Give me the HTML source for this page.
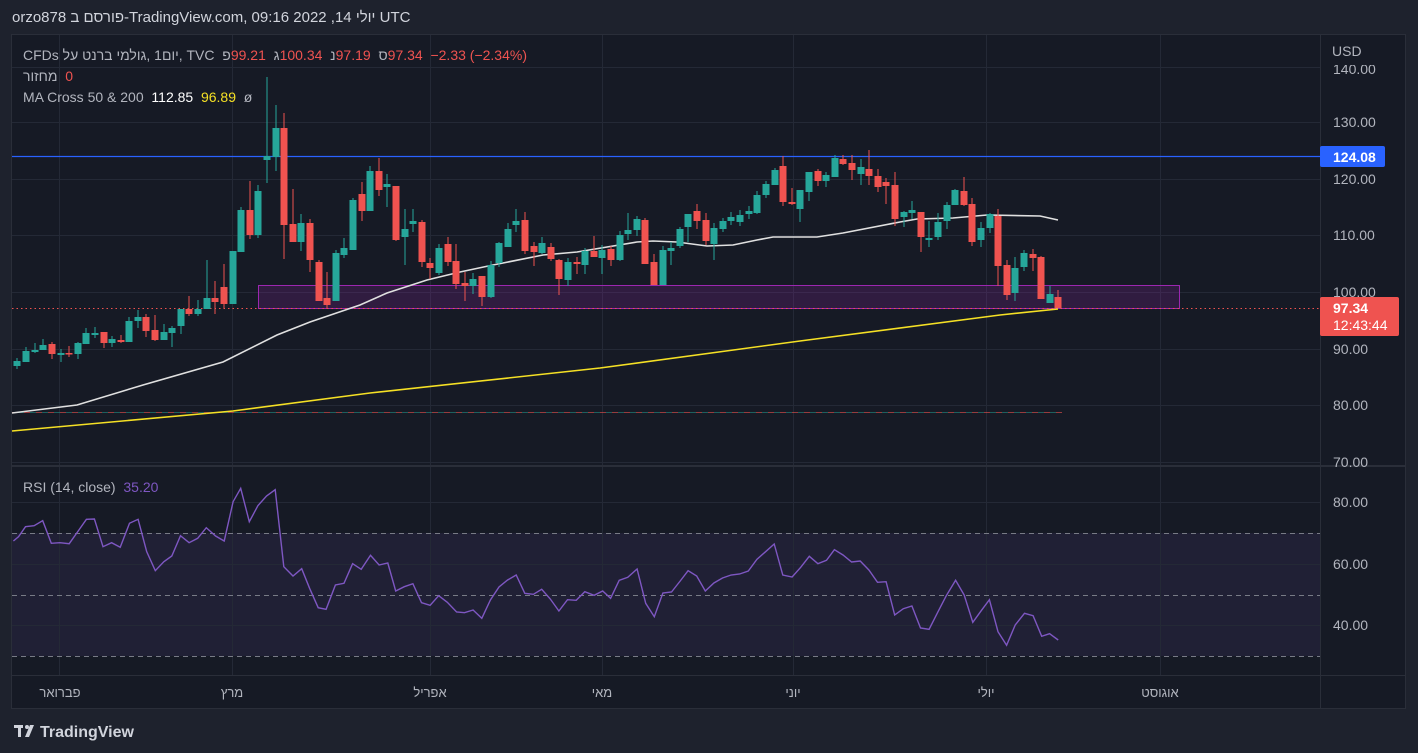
<!DOCTYPE html>
<html><head><meta charset="utf-8">
<style>
html,body{margin:0;padding:0;background:#1e222d;}
body{width:1418px;height:753px;overflow:hidden;position:relative;font-family:"Liberation Sans","Noto Sans CJK SC",sans-serif;}
.ib{display:inline-block;}
</style></head><body>
<svg width="1418" height="753" xmlns="http://www.w3.org/2000/svg" style="position:absolute;left:0;top:0" font-family="Liberation Sans, sans-serif">
<rect x="0" y="0" width="1418" height="753" fill="#1e222d"/>
<rect x="11.5" y="34.5" width="1394" height="674" fill="#161a25" stroke="#2a2e39"/>
<rect x="12" y="533" width="1308" height="123" fill="#7e57c2" fill-opacity="0.1"/>
<g stroke="#242936" stroke-width="1">
<line x1="12" x2="1320" y1="67.5" y2="67.5"/><line x1="12" x2="1320" y1="122.5" y2="122.5"/><line x1="12" x2="1320" y1="179.5" y2="179.5"/><line x1="12" x2="1320" y1="235.5" y2="235.5"/><line x1="12" x2="1320" y1="292.5" y2="292.5"/><line x1="12" x2="1320" y1="349.5" y2="349.5"/><line x1="12" x2="1320" y1="405.5" y2="405.5"/><line x1="12" x2="1320" y1="462.5" y2="462.5"/>
<line x1="12" x2="1320" y1="502.5" y2="502.5"/><line x1="12" x2="1320" y1="564.5" y2="564.5"/><line x1="12" x2="1320" y1="625.5" y2="625.5"/>
<line x1="59.5" x2="59.5" y1="35" y2="675"/><line x1="232.5" x2="232.5" y1="35" y2="675"/><line x1="430.5" x2="430.5" y1="35" y2="675"/><line x1="602.5" x2="602.5" y1="35" y2="675"/><line x1="793.5" x2="793.5" y1="35" y2="675"/><line x1="986.5" x2="986.5" y1="35" y2="675"/><line x1="1160.5" x2="1160.5" y1="35" y2="675"/>
</g>
<g stroke="#787b86" stroke-dasharray="5,4" stroke-width="1">
<line x1="12" x2="1320" y1="533.5" y2="533.5"/><line x1="12" x2="1320" y1="595.5" y2="595.5"/><line x1="12" x2="1320" y1="656.5" y2="656.5"/>
</g>
<line x1="12" x2="1406" y1="466" y2="466" stroke="#2a2e39" stroke-width="2"/>
<line x1="12" x2="1406" y1="675.5" y2="675.5" stroke="#2a2e39"/>
<line x1="1320.5" x2="1320.5" y1="35" y2="708" stroke="#2a2e39"/>
<rect x="258.5" y="285.5" width="921" height="23" fill="#9c27b0" fill-opacity="0.2" stroke="#9c27b0" stroke-width="1"/>
<line x1="12" x2="1320" y1="156.5" y2="156.5" stroke="#2962ff" stroke-width="1.2"/>
<line x1="12" x2="1320" y1="308.5" y2="308.5" stroke="#ef5350" stroke-dasharray="1.5,3"/>
<line x1="12" x2="1062" y1="412.5" y2="412.5" stroke="#ef5350" stroke-opacity="0.6" stroke-dasharray="6,6"/>
<line x1="18" x2="1062" y1="412.5" y2="412.5" stroke="#26a69a" stroke-opacity="0.5" stroke-dasharray="6,6"/>
<polyline fill="none" stroke="#e0e0e0" stroke-width="1.6" points="12,413 77,405 143,385 223,362 277,335 310,322 360,305 387,293 427,280 460,272 493,265 543,255 577,252 637,242 653,241 677,242 707,246 733,245 757,240 773,237 817,237 843,233 900,222 917,219 953,218 987,215 1040,216 1058,220"/>
<polyline fill="none" stroke="#f5e025" stroke-width="1.6" points="12,431 233,411 370,393 600,368 800,341 1000,315 1058,309"/>
<g stroke="#26a69a" stroke-width="1">
<line x1="17" x2="17" y1="358" y2="369"/><line x1="26" x2="26" y1="347" y2="362"/><line x1="35" x2="35" y1="343" y2="353"/><line x1="43" x2="43" y1="339" y2="350"/><line x1="61" x2="61" y1="349" y2="362"/><line x1="78" x2="78" y1="342" y2="359"/><line x1="86" x2="86" y1="328" y2="344"/><line x1="95" x2="95" y1="327" y2="338"/><line x1="112" x2="112" y1="336" y2="347"/><line x1="129" x2="129" y1="317" y2="342"/><line x1="138" x2="138" y1="310" y2="328"/><line x1="164" x2="164" y1="324" y2="340"/><line x1="172" x2="172" y1="326" y2="347"/><line x1="181" x2="181" y1="309" y2="334"/><line x1="198" x2="198" y1="300" y2="316"/><line x1="207" x2="207" y1="260" y2="309"/><line x1="233" x2="233" y1="251" y2="304"/><line x1="241" x2="241" y1="207" y2="252"/><line x1="258" x2="258" y1="185" y2="238"/><line x1="267" x2="267" y1="77" y2="183"/><line x1="276" x2="276" y1="105" y2="171"/><line x1="301" x2="301" y1="214" y2="251"/><line x1="336" x2="336" y1="250" y2="301"/><line x1="344" x2="344" y1="238" y2="258"/><line x1="353" x2="353" y1="198" y2="250"/><line x1="370" x2="370" y1="166" y2="211"/><line x1="387" x2="387" y1="174" y2="207"/><line x1="405" x2="405" y1="209" y2="265"/><line x1="413" x2="413" y1="209" y2="232"/><line x1="439" x2="439" y1="244" y2="275"/><line x1="473" x2="473" y1="273" y2="294"/><line x1="491" x2="491" y1="261" y2="298"/><line x1="499" x2="499" y1="242" y2="267"/><line x1="508" x2="508" y1="223" y2="247"/><line x1="516" x2="516" y1="209" y2="232"/><line x1="542" x2="542" y1="237" y2="254"/><line x1="568" x2="568" y1="258" y2="286"/><line x1="585" x2="585" y1="248" y2="274"/><line x1="602" x2="602" y1="245" y2="274"/><line x1="620" x2="620" y1="231" y2="261"/><line x1="628" x2="628" y1="213" y2="240"/><line x1="637" x2="637" y1="216" y2="236"/><line x1="663" x2="663" y1="246" y2="285"/><line x1="671" x2="671" y1="242" y2="265"/><line x1="680" x2="680" y1="227" y2="248"/><line x1="688" x2="688" y1="214" y2="242"/><line x1="714" x2="714" y1="223" y2="260"/><line x1="723" x2="723" y1="218" y2="232"/><line x1="731" x2="731" y1="212" y2="225"/><line x1="740" x2="740" y1="210" y2="226"/><line x1="749" x2="749" y1="206" y2="219"/><line x1="757" x2="757" y1="191" y2="214"/><line x1="766" x2="766" y1="181" y2="198"/><line x1="775" x2="775" y1="168" y2="185"/><line x1="800" x2="800" y1="190" y2="222"/><line x1="809" x2="809" y1="172" y2="201"/><line x1="826" x2="826" y1="172" y2="187"/><line x1="835" x2="835" y1="155" y2="177"/><line x1="861" x2="861" y1="159" y2="185"/><line x1="904" x2="904" y1="211" y2="227"/><line x1="912" x2="912" y1="201" y2="219"/><line x1="929" x2="929" y1="221" y2="247"/><line x1="938" x2="938" y1="213" y2="240"/><line x1="947" x2="947" y1="202" y2="229"/><line x1="955" x2="955" y1="189" y2="205"/><line x1="981" x2="981" y1="222" y2="247"/><line x1="990" x2="990" y1="213" y2="233"/><line x1="1015" x2="1015" y1="257" y2="301"/><line x1="1024" x2="1024" y1="250" y2="271"/><line x1="1050" x2="1050" y1="286" y2="303"/>
</g>
<g fill="#26a69a">
<rect x="13.5" y="361" width="7" height="5"/><rect x="22.5" y="351" width="7" height="11"/><rect x="31.5" y="350" width="7" height="2"/><rect x="39.5" y="345" width="7" height="5"/><rect x="57.5" y="353" width="7" height="2"/><rect x="74.5" y="343" width="7" height="11"/><rect x="82.5" y="333" width="7" height="11"/><rect x="91.5" y="333" width="7" height="2"/><rect x="108.5" y="339" width="7" height="4"/><rect x="125.5" y="321" width="7" height="21"/><rect x="134.5" y="317" width="7" height="4"/><rect x="160.5" y="332" width="7" height="8"/><rect x="168.5" y="328" width="7" height="5"/><rect x="177.5" y="309" width="7" height="17"/><rect x="194.5" y="309" width="7" height="5"/><rect x="203.5" y="298" width="7" height="11"/><rect x="229.5" y="251" width="7" height="53"/><rect x="237.5" y="210" width="7" height="42"/><rect x="254.5" y="191" width="7" height="44"/><rect x="263.5" y="156" width="7" height="4"/><rect x="272.5" y="128" width="7" height="29"/><rect x="297.5" y="223" width="7" height="19"/><rect x="332.5" y="253" width="7" height="48"/><rect x="340.5" y="248" width="7" height="7"/><rect x="349.5" y="200" width="7" height="50"/><rect x="366.5" y="171" width="7" height="40"/><rect x="383.5" y="184" width="7" height="3"/><rect x="401.5" y="229" width="7" height="8"/><rect x="409.5" y="221" width="7" height="3"/><rect x="435.5" y="248" width="7" height="25"/><rect x="469.5" y="279" width="7" height="7"/><rect x="487.5" y="265" width="7" height="32"/><rect x="495.5" y="243" width="7" height="20"/><rect x="504.5" y="229" width="7" height="18"/><rect x="512.5" y="221" width="7" height="4"/><rect x="538.5" y="243" width="7" height="10"/><rect x="564.5" y="262" width="7" height="18"/><rect x="581.5" y="251" width="7" height="14"/><rect x="598.5" y="250" width="7" height="8"/><rect x="616.5" y="235" width="7" height="25"/><rect x="624.5" y="230" width="7" height="4"/><rect x="633.5" y="219" width="7" height="11"/><rect x="659.5" y="250" width="7" height="35"/><rect x="667.5" y="248" width="7" height="3"/><rect x="676.5" y="229" width="7" height="17"/><rect x="684.5" y="214" width="7" height="13"/><rect x="710.5" y="228" width="7" height="16"/><rect x="719.5" y="221" width="7" height="8"/><rect x="727.5" y="217" width="7" height="4"/><rect x="736.5" y="215" width="7" height="7"/><rect x="745.5" y="211" width="7" height="3"/><rect x="753.5" y="195" width="7" height="18"/><rect x="762.5" y="184" width="7" height="11"/><rect x="771.5" y="170" width="7" height="15"/><rect x="796.5" y="190" width="7" height="19"/><rect x="805.5" y="172" width="7" height="20"/><rect x="822.5" y="175" width="7" height="6"/><rect x="831.5" y="158" width="7" height="19"/><rect x="857.5" y="167" width="7" height="7"/><rect x="900.5" y="212" width="7" height="5"/><rect x="908.5" y="210" width="7" height="3"/><rect x="925.5" y="238" width="7" height="2"/><rect x="934.5" y="222" width="7" height="15"/><rect x="943.5" y="205" width="7" height="16"/><rect x="951.5" y="190" width="7" height="15"/><rect x="977.5" y="228" width="7" height="12"/><rect x="986.5" y="214" width="7" height="14"/><rect x="1011.5" y="268" width="7" height="25"/><rect x="1020.5" y="253" width="7" height="14"/><rect x="1046.5" y="294" width="7" height="9"/>
</g>
<g stroke="#ef5350" stroke-width="1">
<line x1="52" x2="52" y1="342" y2="359"/><line x1="69" x2="69" y1="346" y2="357"/><line x1="104" x2="104" y1="332" y2="348"/><line x1="121" x2="121" y1="335" y2="343"/><line x1="146" x2="146" y1="314" y2="337"/><line x1="155" x2="155" y1="315" y2="341"/><line x1="189" x2="189" y1="296" y2="316"/><line x1="215" x2="215" y1="281" y2="314"/><line x1="224" x2="224" y1="264" y2="308"/><line x1="250" x2="250" y1="181" y2="239"/><line x1="284" x2="284" y1="113" y2="259"/><line x1="293" x2="293" y1="189" y2="242"/><line x1="310" x2="310" y1="219" y2="272"/><line x1="319" x2="319" y1="260" y2="301"/><line x1="327" x2="327" y1="272" y2="309"/><line x1="362" x2="362" y1="182" y2="221"/><line x1="379" x2="379" y1="158" y2="196"/><line x1="396" x2="396" y1="186" y2="241"/><line x1="422" x2="422" y1="220" y2="267"/><line x1="430" x2="430" y1="258" y2="279"/><line x1="448" x2="448" y1="237" y2="266"/><line x1="456" x2="456" y1="244" y2="289"/><line x1="465" x2="465" y1="272" y2="301"/><line x1="482" x2="482" y1="276" y2="306"/><line x1="525" x2="525" y1="212" y2="254"/><line x1="534" x2="534" y1="242" y2="266"/><line x1="551" x2="551" y1="243" y2="261"/><line x1="559" x2="559" y1="259" y2="295"/><line x1="577" x2="577" y1="257" y2="274"/><line x1="594" x2="594" y1="236" y2="257"/><line x1="611" x2="611" y1="246" y2="266"/><line x1="645" x2="645" y1="218" y2="264"/><line x1="654" x2="654" y1="254" y2="285"/><line x1="697" x2="697" y1="204" y2="229"/><line x1="706" x2="706" y1="213" y2="245"/><line x1="783" x2="783" y1="156" y2="206"/><line x1="792" x2="792" y1="188" y2="205"/><line x1="818" x2="818" y1="169" y2="186"/><line x1="843" x2="843" y1="155" y2="165"/><line x1="852" x2="852" y1="155" y2="180"/><line x1="869" x2="869" y1="150" y2="185"/><line x1="878" x2="878" y1="169" y2="192"/><line x1="886" x2="886" y1="178" y2="204"/><line x1="895" x2="895" y1="172" y2="226"/><line x1="921" x2="921" y1="212" y2="252"/><line x1="964" x2="964" y1="177" y2="206"/><line x1="972" x2="972" y1="198" y2="246"/><line x1="998" x2="998" y1="209" y2="286"/><line x1="1007" x2="1007" y1="260" y2="300"/><line x1="1033" x2="1033" y1="249" y2="271"/><line x1="1041" x2="1041" y1="256" y2="299"/><line x1="1058" x2="1058" y1="290" y2="308"/>
</g>
<g fill="#ef5350">
<rect x="48.5" y="344" width="7" height="10"/><rect x="65.5" y="353" width="7" height="1.5"/><rect x="100.5" y="332" width="7" height="11"/><rect x="117.5" y="340" width="7" height="2"/><rect x="142.5" y="317" width="7" height="14"/><rect x="151.5" y="330" width="7" height="10"/><rect x="185.5" y="309" width="7" height="5"/><rect x="211.5" y="298" width="7" height="4"/><rect x="220.5" y="287" width="7" height="17"/><rect x="246.5" y="210" width="7" height="25"/><rect x="280.5" y="128" width="7" height="97"/><rect x="289.5" y="224" width="7" height="18"/><rect x="306.5" y="223" width="7" height="37"/><rect x="315.5" y="262" width="7" height="39"/><rect x="323.5" y="298" width="7" height="7"/><rect x="358.5" y="194" width="7" height="17"/><rect x="375.5" y="171" width="7" height="19"/><rect x="392.5" y="186" width="7" height="54"/><rect x="418.5" y="222" width="7" height="40"/><rect x="426.5" y="263" width="7" height="5"/><rect x="444.5" y="244" width="7" height="18"/><rect x="452.5" y="261" width="7" height="23"/><rect x="461.5" y="283" width="7" height="3"/><rect x="478.5" y="276" width="7" height="21"/><rect x="521.5" y="220" width="7" height="31"/><rect x="530.5" y="246" width="7" height="6"/><rect x="547.5" y="247" width="7" height="12"/><rect x="555.5" y="260" width="7" height="19"/><rect x="573.5" y="262" width="7" height="2"/><rect x="590.5" y="251" width="7" height="6"/><rect x="607.5" y="249" width="7" height="11"/><rect x="641.5" y="220" width="7" height="44"/><rect x="650.5" y="262" width="7" height="23"/><rect x="693.5" y="211" width="7" height="10"/><rect x="702.5" y="220" width="7" height="21"/><rect x="779.5" y="166" width="7" height="36"/><rect x="788.5" y="202" width="7" height="2"/><rect x="814.5" y="171" width="7" height="10"/><rect x="839.5" y="159" width="7" height="5"/><rect x="848.5" y="163" width="7" height="7"/><rect x="865.5" y="169" width="7" height="7"/><rect x="874.5" y="176" width="7" height="11"/><rect x="882.5" y="182" width="7" height="4"/><rect x="891.5" y="185" width="7" height="34"/><rect x="917.5" y="212" width="7" height="25"/><rect x="960.5" y="191" width="7" height="14"/><rect x="968.5" y="204" width="7" height="38"/><rect x="994.5" y="216" width="7" height="50"/><rect x="1003.5" y="265" width="7" height="30"/><rect x="1029.5" y="254" width="7" height="4"/><rect x="1037.5" y="257" width="7" height="42"/><rect x="1054.5" y="297" width="7" height="11"/>
</g>
<polyline fill="none" stroke="#7e57c2" stroke-width="1.4" points="13.4,541 18.6,536.7 25.5,526.7 34.1,525.7 42.7,520.7 51.3,543.3 59.9,542.7 69.2,543.7 78.9,530 86.4,519.3 94.4,519 103,546.7 111.6,542.7 120.2,547.3 129.5,523.3 138.1,519.3 146.7,551.7 155.3,570.7 163.9,561.7 171.8,556 180.5,535.7 189.1,542.7 197.7,538.3 206.3,527.7 215.6,536 224.2,541 233.1,501.7 240.7,488.3 249.3,521.7 257.9,505.7 266.5,496 275.2,489.7 283.8,566.7 293,576 301.7,568.7 309.6,588.3 318.2,607.7 326.1,609.3 335.4,585 344,583.3 352.6,563.7 361.2,569.3 370.5,555.3 379.1,565 387.8,563 395.7,591 404.3,586.7 412.9,583.7 421.5,602.7 430.1,605.3 438.7,595.7 447.3,602.3 456.6,612 464.5,612.7 473.1,610 481.8,618.3 490.4,600 499,587 507.6,580 516.2,575 524.8,593.3 533.4,594.3 541.7,589.3 550.3,599 558.9,611 567.5,599.7 576.2,600.3 584.8,591.7 594.1,595.3 602.7,591 610.6,598.3 619.2,580.3 627.8,577.3 637.1,569 645.7,603.3 654.3,616.7 662.9,593 671.5,592 680.2,581 688.1,570.7 696.7,576 705.3,591 713.9,583 722.5,578 731.1,575 739.7,574 748.3,571 756.9,559.3 765.6,551.7 774.2,544 782.8,575 792.1,577 800.7,567.3 809.3,556.3 817.9,563.7 826.5,560.3 834.4,549.7 843,555 851.6,562 860.2,561 868.9,570 877.5,582.3 886.1,581.7 894.7,615 903.3,608.7 911.9,606 920.5,628 929.1,629.3 937.7,612.3 946.3,595.7 955.6,580.3 964.2,595 972.8,622.3 981.5,610.3 989.4,599.7 998,631.7 1006.6,645.3 1015.2,625 1024.5,613.3 1033.1,615.7 1041.7,636.3 1049.6,633.7 1058.2,640"/>
<g fill="#b2b5be" font-size="14">
<text x="1333" y="74">140.00</text>
<text x="1333" y="127">130.00</text><text x="1333" y="184">120.00</text><text x="1333" y="240">110.00</text><text x="1333" y="297">100.00</text><text x="1333" y="354">90.00</text><text x="1333" y="410">80.00</text><text x="1333" y="467">70.00</text>
<text x="1333" y="507">80.00</text><text x="1333" y="569">60.00</text><text x="1333" y="630">40.00</text>
</g>
<rect x="1321" y="35" width="84" height="30" fill="#161a25"/>
<text x="1332" y="56" fill="#b2b5be" font-size="14">USD</text>
<rect x="1320" y="146" width="65" height="21" rx="2" fill="#2962ff"/>
<text x="1333" y="162" fill="#ffffff" font-size="14" font-weight="bold">124.08</text>
<rect x="1320" y="297" width="79" height="39" rx="2" fill="#ef5350"/>
<text x="1333" y="313" fill="#ffffff" font-size="14" font-weight="bold">97.34</text>
<text x="1333" y="330" fill="#ffffff" font-size="14">12:43:44</text>
<g fill="#b2b5be" font-size="13" text-anchor="middle">
<text x="60" y="697">פברואר</text><text x="232" y="697">מרץ</text><text x="430" y="697">אפריל</text><text x="602" y="697">מאי</text><text x="793" y="697">יוני</text><text x="986" y="697">יולי</text><text x="1160" y="697">אוגוסט</text>
</g>
<g fill="#d1d4dc">
<rect x="14" y="725" width="9" height="3"/><rect x="18" y="725" width="3" height="12"/><circle cx="27" cy="727" r="2"/><polygon points="30,725 34,725 29,737 25,737"/>
<text x="40" y="737" font-size="16" font-weight="bold">TradingView</text>
</g>
</svg>
<div style="position:absolute;left:12px;top:9px;font-size:15px;color:#d1d4dc;white-space:nowrap;direction:ltr;">orzo878 <span class="ib" dir="rtl">פורסם ב</span>-TradingView.com, 09:16 2022 ,14 <span class="ib" dir="rtl">יולי</span> UTC</div>
<div style="position:absolute;left:23px;top:45px;font-size:14px;color:#b2b5be;white-space:nowrap;direction:ltr;line-height:21px;">
<div style="unicode-bidi:bidi-override;direction:ltr;">CFDs לע טנרב ימלוג, 1םוי, TVC&nbsp; פ<span style="color:#ef5350">99.21</span>&nbsp; ג<span style="color:#ef5350">100.34</span>&nbsp; נ<span style="color:#ef5350">97.19</span>&nbsp; ס<span style="color:#ef5350">97.34&nbsp; −2.33 (−2.34%)</span></div>
<div><span class="ib" dir="rtl">מחזור</span>&nbsp; <span style="color:#ef5350">0</span></div>
<div>MA Cross 50 &amp; 200&nbsp; <span style="color:#ffffff">112.85</span>&nbsp; <span style="color:#f5e025">96.89</span>&nbsp; ø</div>
</div>
<div style="position:absolute;left:23px;top:479px;font-size:14px;color:#b2b5be;white-space:nowrap;">RSI (14, close)&nbsp; <span style="color:#7e57c2">35.20</span></div>
</body></html>
